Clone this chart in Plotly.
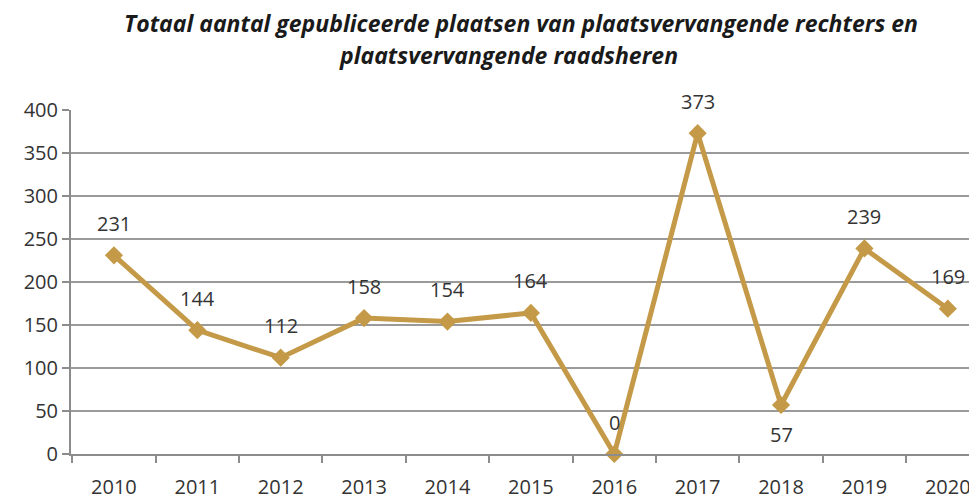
import plotly.graph_objects as go

years = ["2010", "2011", "2012", "2013", "2014", "2015", "2016", "2017", "2018", "2019", "2020"]
values = [231, 144, 112, 158, 154, 164, 0, 373, 57, 239, 169]
y_ticks = [0, 50, 100, 150, 200, 250, 300, 350, 400]
title_lines = ["Totaal aantal gepubliceerde plaatsen van plaatsvervangende rechters en",
               "plaatsvervangende raadsheren"]

# label pixel offsets (style)
label_shift = [32, 32, 32, 32, 32, 32, 32, 32, -30, 32, 32]
title_pos = [(0.4967, 87), (0.4834, 55)]

color = "#C49A48"
font_family = "Open Sans, Liberation Sans, sans-serif"

fig = go.Figure()
fig.add_trace(go.Scatter(
    x=years, y=values, mode="lines+markers",
    line=dict(color=color, width=5),
    marker=dict(symbol="diamond", size=14, color=color),
    cliponaxis=False, hoverinfo="x+y",
))

annotations = []
for i, (v, s) in enumerate(zip(values, label_shift)):
    annotations.append(dict(xref="x", yref="y", x=i, y=v, text=str(v), showarrow=False,
                            yshift=s, xanchor="center", yanchor="middle",
                            font=dict(size=20, color="#333333", family=font_family)))
for line, (px, ys) in zip(title_lines, title_pos):
    annotations.append(dict(xref="paper", yref="paper", x=px, y=1.0, yshift=ys,
                            xanchor="center", yanchor="middle", showarrow=False,
                            borderpad=0,
                            text="<b><i>" + line + "</i></b>",
                            font=dict(size=23, color="#1a1a1a", family=font_family)))

fig.update_layout(
    width=969, height=492,
    margin=dict(l=63, r=0, t=102, b=44),
    paper_bgcolor="white", plot_bgcolor="white",
    showlegend=False,
    annotations=annotations,
    font=dict(family=font_family, size=20, color="#333333"),
)
fig.update_xaxes(type="category", range=[-0.515, 10.35], tickson="boundaries",
                 ticks="outside", ticklen=7, tickcolor="#8c8c8c", tickwidth=2,
                 showline=True, linecolor="#8c8c8c", linewidth=2,
                 ticklabelstandoff=14,
                 showgrid=False, tickfont=dict(size=20, color="#333333"))
fig.update_yaxes(range=[0, 400], tickvals=y_ticks, ticks="outside", ticklen=7,
                 tickcolor="#8c8c8c", tickwidth=2,
                 showline=True, linecolor="#8c8c8c", linewidth=2,
                 showgrid=True, gridcolor="#9a9a9a", gridwidth=2, zeroline=False,
                 tickfont=dict(size=20, color="#333333"))

fig.write_html("out.html")
